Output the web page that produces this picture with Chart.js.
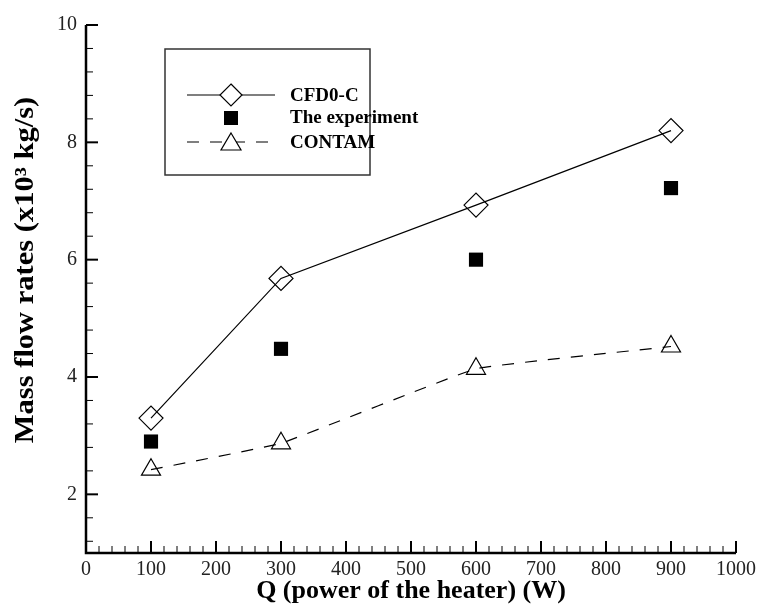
<!DOCTYPE html>
<html>
<head>
<meta charset="utf-8">
<script src="https://cdn.jsdelivr.net/npm/chart.js@4/dist/chart.umd.min.js"></script>
<style>
  html, body { margin: 0; padding: 0; background: #fff; }
  #wrap { width: 758px; height: 606px; }
</style>
</head>
<body>
<div id="wrap"><canvas id="grafic"></canvas></div>
<script>
// dades llegides del gràfic
var potencies = [100, 300, 600, 900];
var cfd0c = [3.3, 5.68, 6.93, 8.2];
var experiment = [2.9, 4.48, 6.0, 7.22];
var contam = [2.42, 2.87, 4.14, 4.52];

var xTicks = [0, 100, 200, 300, 400, 500, 600, 700, 800, 900, 1000];
var yTicks = [2, 4, 6, 8, 10];

var serif = '"Liberation Serif", "DejaVu Serif", serif';

function punts(valors) {
    var res = [];
    for (var i = 0; i < potencies.length; i++) {
        res.push({ x: potencies[i], y: valors[i] });
    }
    return res;
}

// marques petites cap a dins, eixos, llegenda i títols
var decoracio = {
    id: 'decoracio',
    afterDraw: function(chart) {
        var ctx = chart.ctx;
        var xs = chart.scales.x;
        var ys = chart.scales.y;
        var a = chart.chartArea;
        ctx.save();
        ctx.strokeStyle = '#000';

        // eixos
        ctx.lineWidth = 2.5;
        ctx.beginPath();
        ctx.moveTo(a.left, a.top);
        ctx.lineTo(a.left, a.bottom);
        ctx.lineTo(a.right, a.bottom);
        ctx.stroke();

        // marques eix x
        for (var v = 0; v <= 1000; v += 20) {
            var px = xs.getPixelForValue(v);
            var gran = v % 100 === 0;
            ctx.lineWidth = gran ? 2 : 1;
            ctx.beginPath();
            ctx.moveTo(px, a.bottom);
            ctx.lineTo(px, a.bottom - (gran ? 12 : 7));
            ctx.stroke();
        }
        // marques eix y
        for (var k = 3; k <= 25; k++) {
            var val = k * 0.4;
            var py = ys.getPixelForValue(val);
            var major = k % 5 === 0;
            ctx.lineWidth = major ? 2 : 1;
            ctx.beginPath();
            ctx.moveTo(a.left, py);
            ctx.lineTo(a.left + (major ? 12 : 7), py);
            ctx.stroke();
        }

        // llegenda
        ctx.lineWidth = 1.5;
        ctx.strokeStyle = '#333';
        ctx.strokeRect(165, 49, 205, 126);
        ctx.strokeStyle = '#000';
        ctx.lineWidth = 1.2;
        ctx.font = 'bold 19px ' + serif;
        ctx.fillStyle = '#000';
        ctx.textBaseline = 'middle';

        ctx.beginPath();
        ctx.moveTo(187, 95);
        ctx.lineTo(275, 95);
        ctx.stroke();
        ctx.fillStyle = '#fff';
        ctx.beginPath();
        ctx.moveTo(231, 84); ctx.lineTo(242, 95); ctx.lineTo(231, 106); ctx.lineTo(220, 95);
        ctx.closePath();
        ctx.fill();
        ctx.stroke();
        ctx.fillStyle = '#000';
        ctx.fillText('CFD0-C', 290, 96);

        ctx.fillRect(224, 111, 14, 14);
        ctx.fillText('The experiment', 290, 118);

        ctx.setLineDash([12, 11]);
        ctx.beginPath();
        ctx.moveTo(187, 142);
        ctx.lineTo(275, 142);
        ctx.stroke();
        ctx.setLineDash([]);
        ctx.fillStyle = '#fff';
        ctx.beginPath();
        ctx.moveTo(231, 133); ctx.lineTo(241, 150); ctx.lineTo(221, 150);
        ctx.closePath();
        ctx.fill();
        ctx.stroke();
        ctx.fillStyle = '#000';
        ctx.fillText('CONTAM', 290, 143);

        // títols
        ctx.font = 'bold 26px ' + serif;
        ctx.textAlign = 'center';
        ctx.fillText('Q (power of the heater) (W)', 411, 591);
        ctx.font = 'bold 27px ' + serif;
        ctx.translate(26, 270);
        ctx.rotate(-Math.PI / 2);
        ctx.scale(1.13, 1);
        ctx.fillText('Mass flow rates (x10\u00B3 kg/s)', 0, 0);
        ctx.restore();
    }
};

var grafic = new Chart(document.getElementById('grafic').getContext('2d'), {
    type: 'scatter',
    data: {
        datasets: [{
            label: 'CFD0-C',
            data: punts(cfd0c),
            showLine: true,
            borderColor: '#000',
            borderWidth: 1.2,
            pointStyle: 'rectRot',
            pointRadius: 12,
            pointBorderWidth: 1.2,
            pointBorderColor: '#000',
            pointBackgroundColor: 'rgba(0,0,0,0)'
        }, {
            label: 'The experiment',
            data: punts(experiment),
            showLine: false,
            pointStyle: 'rect',
            pointRadius: 10,
            pointBorderWidth: 0,
            pointBackgroundColor: '#000',
            pointBorderColor: '#000'
        }, {
            label: 'CONTAM',
            data: punts(contam),
            showLine: true,
            borderColor: '#000',
            borderWidth: 1.2,
            borderDash: [12, 11],
            tension: 0.08,
            pointStyle: 'triangle',
            pointRadius: 11,
            pointBorderWidth: 1.2,
            pointBorderColor: '#000',
            pointBackgroundColor: 'rgba(0,0,0,0)'
        }]
    },
    options: {
        responsive: true,
        maintainAspectRatio: false,
        animation: false,
        devicePixelRatio: 1,
        layout: { padding: { left: 30, top: 25, right: 22, bottom: 0 } },
        plugins: {
            legend: { display: false },
            tooltip: { enabled: false }
        },
        scales: {
            x: {
                type: 'linear',
                min: 0,
                max: 1000,
                grid: { display: false, drawTicks: false },
                border: { display: false },
                afterBuildTicks: function(scale) {
                    scale.ticks = xTicks.map(function(v) { return { value: v }; });
                },
                afterFit: function(scale) {
                    scale.height = 53;
                    scale.paddingLeft = 0;
                    scale.paddingRight = 0;
                },
                ticks: {
                    padding: 5,
                    maxRotation: 0,
                    autoSkip: false,
                    color: '#222',
                    font: { family: serif, size: 20 },
                    callback: function(v) { return String(v); }
                }
            },
            y: {
                type: 'linear',
                min: 1,
                max: 10,
                grid: { display: false, drawTicks: false },
                border: { display: false },
                afterBuildTicks: function(scale) {
                    scale.ticks = yTicks.map(function(v) { return { value: v }; });
                },
                afterFit: function(scale) {
                    scale.width = 56;
                    scale.paddingTop = 0;
                    scale.paddingBottom = 0;
                },
                ticks: {
                    padding: 9,
                    color: '#222',
                    font: { family: serif, size: 20 },
                    callback: function(v) { return String(v); }
                }
            }
        }
    },
    plugins: [decoracio]
});
</script>
</body>
</html>
